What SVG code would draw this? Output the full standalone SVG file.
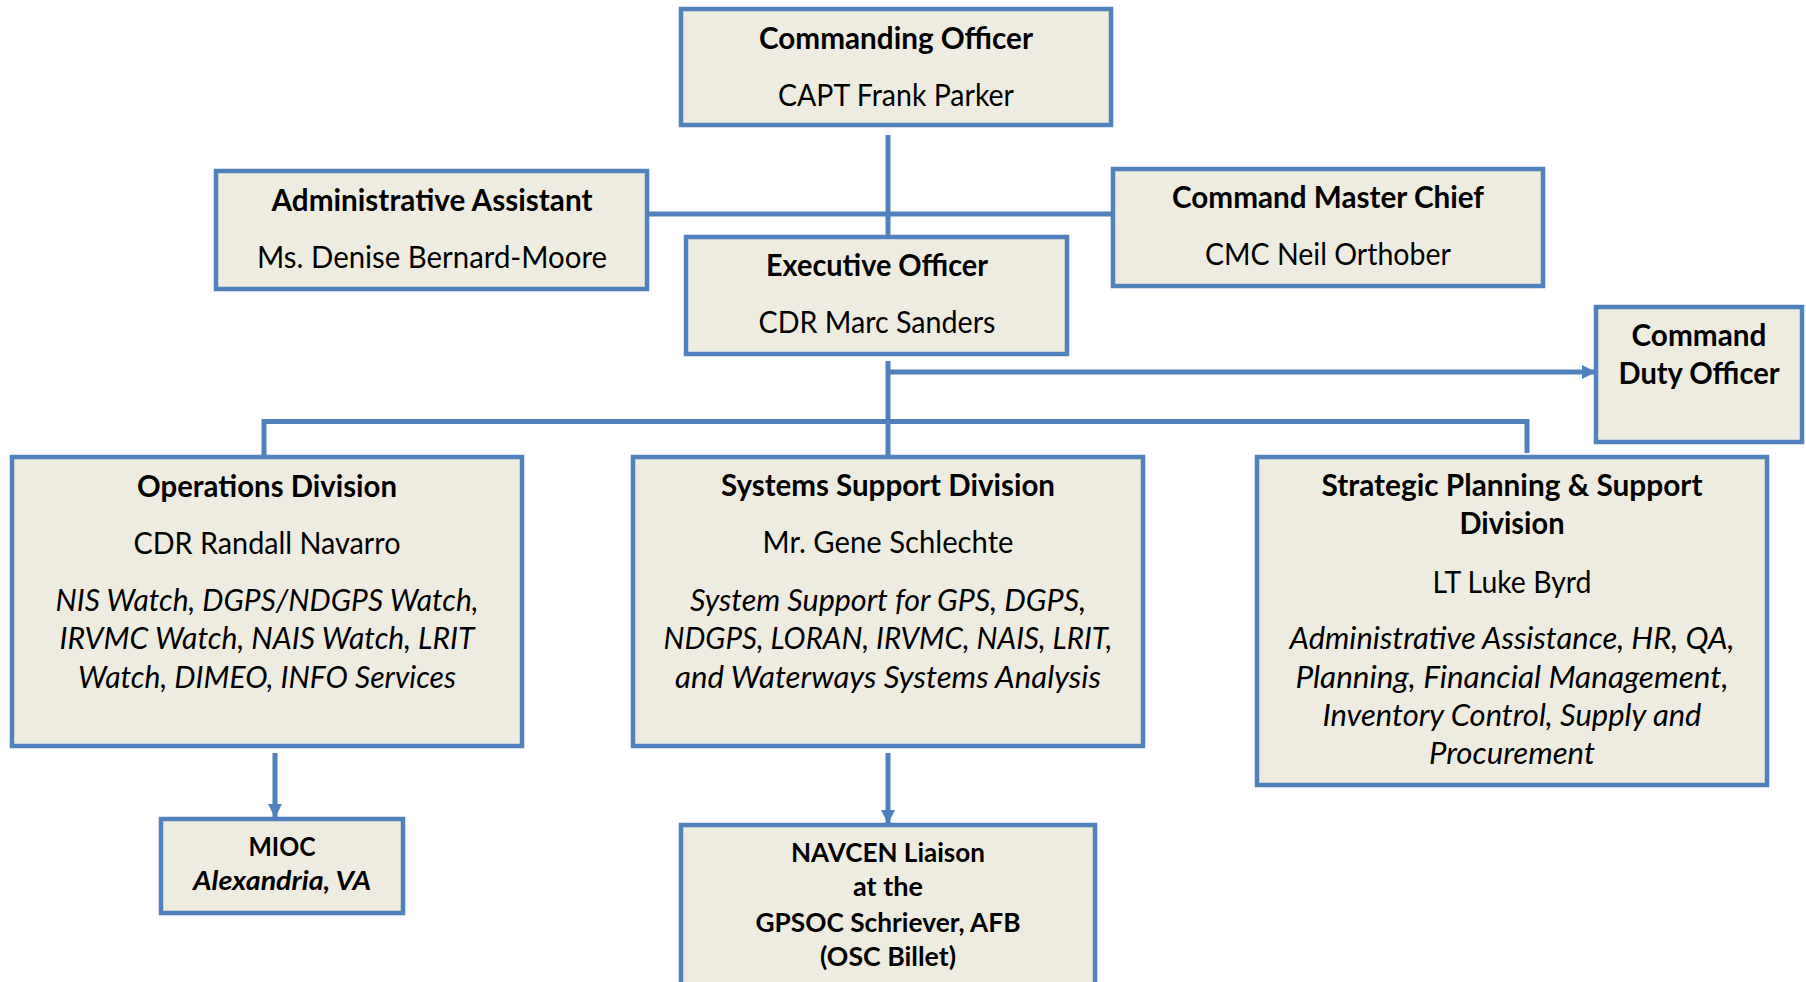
<svg xmlns="http://www.w3.org/2000/svg" width="1806" height="982" viewBox="0 0 1806 982">
<style>
.box{fill:#EEECE1;stroke:#4F81BD;stroke-width:4.5}
.c{fill:none;stroke:#4F81BD;stroke-width:5}
text{font-family:Lato,"Open Sans",sans-serif;fill:#000;text-anchor:middle;font-size:30px}
.b{font-weight:bold}
.i{font-style:italic}
.s{font-size:26.5px}
</style>
<defs>
<marker id="ah" markerUnits="userSpaceOnUse" markerWidth="14" markerHeight="14" refX="14" refY="7" orient="auto">
<path d="M0,0 L14,7 L0,14 z" fill="#4F81BD"/>
</marker>
</defs>
<rect width="1806" height="982" fill="#fff"/>
<g id="connectors">
<line class="c" x1="888" y1="135" x2="888" y2="237"/>
<line class="c" x1="649" y1="214" x2="1111" y2="214"/>
<line class="c" x1="888" y1="361" x2="888" y2="455"/>
<line class="c" x1="888" y1="372" x2="1596" y2="372" marker-end="url(#ah)"/>
<polyline class="c" points="264,455 264,421.5 1527,421.5 1527,453"/>
<line class="c" x1="275" y1="753" x2="275" y2="818" marker-end="url(#ah)"/>
<line class="c" x1="888" y1="753" x2="888" y2="824" marker-end="url(#ah)"/>
</g>
<g id="co">
<rect class="box" x="681" y="9" width="430" height="116"/>
<text class="b" x="896" y="49" textLength="274" lengthAdjust="spacingAndGlyphs">Commanding Officer</text>
<text x="896" y="106" textLength="236" lengthAdjust="spacingAndGlyphs">CAPT Frank Parker</text>
</g>
<g id="admin">
<rect class="box" x="216" y="171" width="431" height="118"/>
<text class="b" x="432" y="211" textLength="321" lengthAdjust="spacingAndGlyphs">Administrative Assistant</text>
<text x="432" y="268" textLength="350" lengthAdjust="spacingAndGlyphs">Ms. Denise Bernard-Moore</text>
</g>
<g id="cmc">
<rect class="box" x="1113" y="169" width="430" height="117"/>
<text class="b" x="1328" y="208" textLength="312" lengthAdjust="spacingAndGlyphs">Command Master Chief</text>
<text x="1328" y="265" textLength="246" lengthAdjust="spacingAndGlyphs">CMC Neil Orthober</text>
</g>
<g id="xo">
<rect class="box" x="686" y="237" width="381" height="117"/>
<text class="b" x="877" y="276" textLength="222" lengthAdjust="spacingAndGlyphs">Executive Officer</text>
<text x="877" y="333" textLength="237" lengthAdjust="spacingAndGlyphs">CDR Marc Sanders</text>
</g>
<g id="cdo">
<rect class="box" x="1596" y="307" width="206" height="135"/>
<text class="b" x="1699" y="346" textLength="135" lengthAdjust="spacingAndGlyphs">Command</text>
<text class="b" x="1699" y="384" textLength="161" lengthAdjust="spacingAndGlyphs">Duty Officer</text>
</g>
<g id="ops">
<rect class="box" x="12" y="457" width="510" height="289"/>
<text class="b" x="267" y="497" textLength="260" lengthAdjust="spacingAndGlyphs">Operations Division</text>
<text x="267" y="554" textLength="267" lengthAdjust="spacingAndGlyphs">CDR Randall Navarro</text>
<text class="i" x="267" y="611" textLength="423" lengthAdjust="spacingAndGlyphs">NIS Watch, DGPS/NDGPS Watch,</text>
<text class="i" x="267" y="649" textLength="415" lengthAdjust="spacingAndGlyphs">IRVMC Watch, NAIS Watch, LRIT</text>
<text class="i" x="267" y="688" textLength="378" lengthAdjust="spacingAndGlyphs">Watch, DIMEO, INFO Services</text>
</g>
<g id="sys">
<rect class="box" x="633" y="457" width="510" height="289"/>
<text class="b" x="888" y="496" textLength="334" lengthAdjust="spacingAndGlyphs">Systems Support Division</text>
<text x="888" y="553" textLength="251" lengthAdjust="spacingAndGlyphs">Mr. Gene Schlechte</text>
<text class="i" x="888" y="611" textLength="396" lengthAdjust="spacingAndGlyphs">System Support for GPS, DGPS,</text>
<text class="i" x="888" y="649" textLength="449" lengthAdjust="spacingAndGlyphs">NDGPS, LORAN, IRVMC, NAIS, LRIT,</text>
<text class="i" x="888" y="688" textLength="426" lengthAdjust="spacingAndGlyphs">and Waterways Systems Analysis</text>
</g>
<g id="strat">
<rect class="box" x="1257" y="457" width="510" height="328"/>
<text class="b" x="1512" y="496" textLength="381" lengthAdjust="spacingAndGlyphs">Strategic Planning &amp; Support</text>
<text class="b" x="1512" y="534" textLength="105" lengthAdjust="spacingAndGlyphs">Division</text>
<text x="1512" y="593" textLength="159" lengthAdjust="spacingAndGlyphs">LT Luke Byrd</text>
<text class="i" x="1512" y="649" textLength="445" lengthAdjust="spacingAndGlyphs">Administrative Assistance, HR, QA,</text>
<text class="i" x="1512" y="688" textLength="433" lengthAdjust="spacingAndGlyphs">Planning, Financial Management,</text>
<text class="i" x="1512" y="726" textLength="379" lengthAdjust="spacingAndGlyphs">Inventory Control, Supply and</text>
<text class="i" x="1512" y="764" textLength="166" lengthAdjust="spacingAndGlyphs">Procurement</text>
</g>
<g id="mioc">
<rect class="box" x="161" y="819" width="242" height="94"/>
<text class="b s" x="282" y="856" textLength="67" lengthAdjust="spacingAndGlyphs">MIOC</text>
<text class="b i s" x="282" y="890" textLength="178" lengthAdjust="spacingAndGlyphs">Alexandria, VA</text>
</g>
<g id="navcen">
<rect class="box" x="681" y="825" width="414" height="170"/>
<text class="b s" x="888" y="862" textLength="194" lengthAdjust="spacingAndGlyphs">NAVCEN Liaison</text>
<text class="b s" x="888" y="896" textLength="70" lengthAdjust="spacingAndGlyphs">at the</text>
<text class="b s" x="888" y="932" textLength="265" lengthAdjust="spacingAndGlyphs">GPSOC Schriever, AFB</text>
<text class="b s" x="888" y="966" textLength="136" lengthAdjust="spacingAndGlyphs">(OSC Billet)</text>
</g>
</svg>
